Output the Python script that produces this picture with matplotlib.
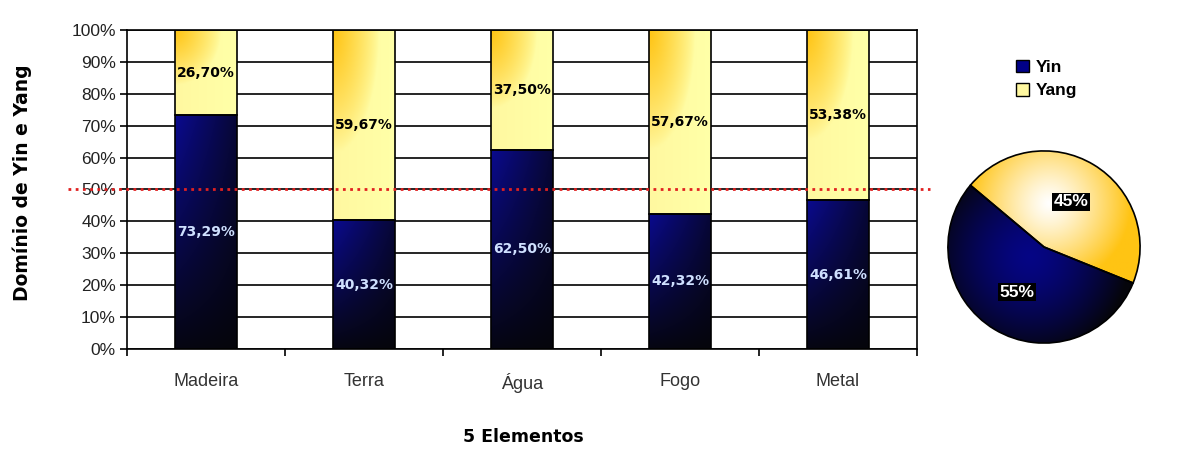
import numpy as np
import matplotlib
matplotlib.use("Agg")
import matplotlib.pyplot as plt
from matplotlib.patches import Patch

# data
elements = ["Madeira", "Terra", "Água", "Fogo", "Metal"]
yin = [73.29, 40.32, 62.50, 42.32, 46.61]
yang = [26.70, 59.67, 37.50, 57.67, 53.38]
yin_labels = ["73,29%", "40,32%", "62,50%", "42,32%", "46,61%"]
yang_labels = ["26,70%", "59,67%", "37,50%", "57,67%", "53,38%"]
pie_values = [55, 45]
pie_names = ["Yin", "Yang"]

NAVY = np.array([0, 0, 135]) / 255
PALE = np.array([255, 248, 160]) / 255
ORANGE = np.array([255, 196, 20]) / 255


def yin_gradient(n=60):
    t = np.linspace(0, 1, n)[None, :]          # left -> right
    v = np.linspace(1, 0, n)[:, None]          # top -> bottom (image rows)
    k = (1 - 0.65 * t) * (0.08 + 0.92 * v)
    img = np.zeros((n, n, 3))
    img[..., 2] = NAVY[2] * k + 0.03
    img[..., 0] = 0.02 + 0.02 * k
    img[..., 1] = 0.02 + 0.02 * k
    return np.clip(img, 0, 1)


def yang_gradient(n=60):
    t = np.linspace(0, 1, n)[None, :]
    v = np.linspace(0, 1, n)[:, None]          # distance from top
    d = np.sqrt((t / 0.75) ** 2 + (v / 0.65) ** 2)
    w = np.clip(1 - d, 0, 1) ** 0.8
    img = PALE[None, None, :] + w[..., None] * (ORANGE - PALE)[None, None, :]
    img = img + (t[..., None] * 0.03)
    return np.clip(img, 0, 1)


def fill_patch(ax, patch, img):
    x0, y0 = patch.get_x(), patch.get_y()
    x1, y1 = x0 + patch.get_width(), y0 + patch.get_height()
    im = ax.imshow(img, extent=[x0, x1, y0, y1], aspect="auto",
                   interpolation="bilinear", zorder=2)
    im.set_clip_path(patch)


fig = plt.figure(figsize=(11.78, 4.53), dpi=100)
ax = fig.add_axes([0.1078, 0.2296, 0.6706, 0.7042])

x = np.arange(len(elements))
bw = 0.39
b1 = ax.bar(x, yin, bw, color="none", edgecolor="black", linewidth=1.2, zorder=3)
b2 = ax.bar(x, yang, bw, bottom=yin, color="none", edgecolor="black", linewidth=1.2, zorder=3)
for p in b1:
    fill_patch(ax, p, yin_gradient())
for p in b2:
    fill_patch(ax, p, yang_gradient())

for i in range(len(elements)):
    ax.text(x[i], yin[i] / 2, yin_labels[i], ha="center", va="center",
            color="#cfe0ff", fontsize=10, fontweight="bold",
            family="DejaVu Sans", zorder=5)
    ax.text(x[i], yin[i] + yang[i] / 2, yang_labels[i], ha="center", va="center",
            color="black", fontsize=10, fontweight="bold",
            family="DejaVu Sans", zorder=5)

ax.set_xlim(-0.5, len(elements) - 0.5)
ax.set_ylim(0, 100)
ax.set_yticks(np.arange(0, 101, 10))
ax.set_yticklabels([f"{v}%" for v in range(0, 101, 10)],
                   fontsize=12.5, color="#222222", family="Liberation Sans")
ax.yaxis.grid(True, color="black", linewidth=1.2, zorder=0)
ax.set_axisbelow(True)
ax.set_xticks(x)
ax.set_xticklabels(elements, fontsize=13, color="#333333", family="Liberation Sans")
ax.set_xticks(np.arange(-0.5, len(elements)), minor=True)
ax.tick_params(axis="x", which="major", length=0, pad=17)
ax.tick_params(axis="x", which="minor", length=5, width=1.2, direction="out")
ax.tick_params(axis="y", length=5, width=1.2, direction="out", pad=3)
for s in ax.spines.values():
    s.set_linewidth(1.2)
    s.set_color("black")

# red dotted 50% line, running past the axes
ax.plot([-0.075, 1.017], [50, 50], transform=ax.get_yaxis_transform(),
        color="#e02020", linestyle=(0, (1, 1.6)), linewidth=2, clip_on=False, zorder=6)

fig.text(22 / 1178, 1 - 183 / 453, "Domínio de Yin e Yang", rotation=90, ha="center", va="center",
         fontsize=13.5, fontweight="bold", family="DejaVu Sans")
fig.text(523 / 1178, 1 - 437 / 453, "5 Elementos", ha="center", va="center",
         fontsize=12.5, fontweight="bold", family="DejaVu Sans")

# pie
pax = fig.add_axes([946 / 1178, 1 - 345 / 453, 196 / 1178, 196 / 453])
wedges, _, autotexts = pax.pie(pie_values, startangle=140, counterclock=True,
                               colors=["none", "none"], autopct="%d%%", pctdistance=0.55,
                               wedgeprops=dict(edgecolor="black", linewidth=1.2),
                               textprops=dict(color="white", fontsize=12.5, fontweight="bold",
                                              family="Liberation Sans"))
n = 200
gx, gy = np.meshgrid(np.linspace(-1, 1, n), np.linspace(1, -1, n))
r_yin = np.sqrt((gx + 0.15) ** 2 + (gy + 0.1) ** 2)
k = np.clip(1 - 0.9 * r_yin ** 1.5, 0.05, 1)
img_yin = np.stack([0.02 + 0 * k, 0.02 + 0 * k, 0.02 + 0.5 * k], axis=-1)
r_yang = np.sqrt((gx - 0.05) ** 2 + (gy - 0.45) ** 2)
w = np.clip(r_yang / 0.85, 0, 1) ** 1.2
img_yang = np.ones((n, n, 3)) + w[..., None] * (ORANGE - 1)[None, None, :]
for wedge, img in zip(wedges, [img_yin, img_yang]):
    im = pax.imshow(img, extent=[-1, 1, -1, 1], interpolation="bilinear", zorder=0.5)
    im.set_clip_path(wedge)
    wedge.set_zorder(1)
for t in autotexts:
    t.set_bbox(dict(facecolor="black", edgecolor="none", pad=1))
    t.set_zorder(3)
pax.set_xlim(-1.02, 1.02)
pax.set_ylim(-1.02, 1.02)
pax.set_aspect("equal")
pax.axis("off")

handles = [Patch(facecolor=NAVY, edgecolor="black"), Patch(facecolor=PALE, edgecolor="black")]
fig.legend(handles, pie_names, loc="upper left", bbox_to_anchor=(1000 / 1178, 1 - 44 / 453),
           frameon=False, prop=dict(size=12.5, weight="bold", family="Liberation Sans"),
           handlelength=0.75, handleheight=0.75, handletextpad=0.4, labelspacing=0.45)

fig.savefig("out.png", dpi=100)
